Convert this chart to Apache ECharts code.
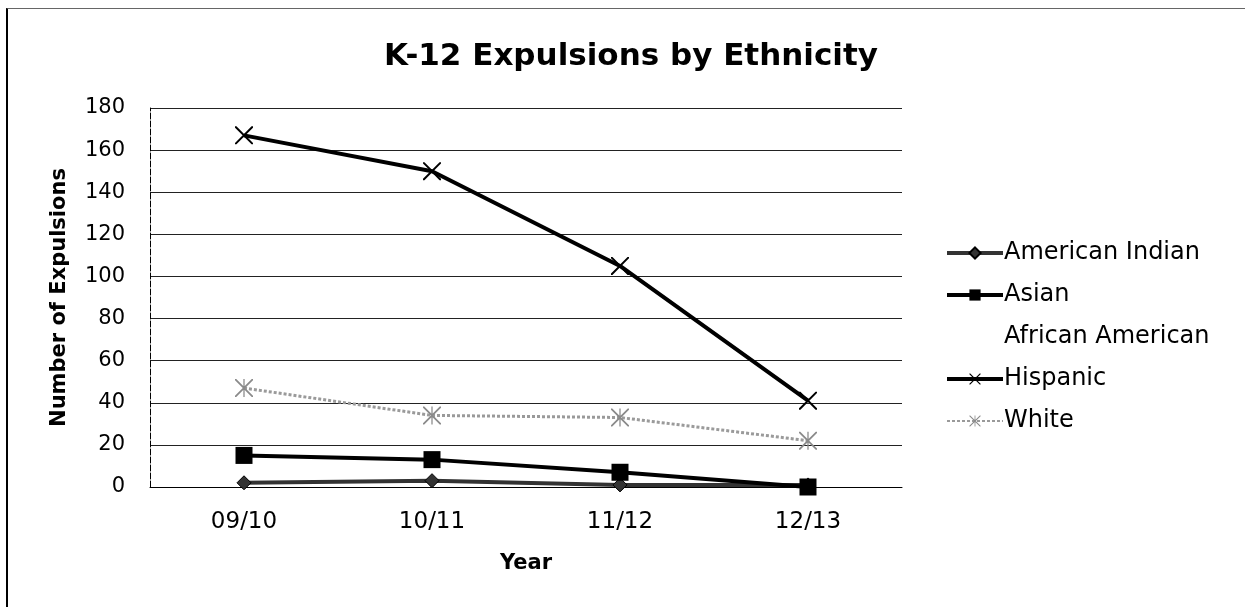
<!DOCTYPE html>
<html>
<head>
<meta charset="utf-8">
<script src="https://cdn.jsdelivr.net/npm/echarts@6/dist/echarts.min.js"></script>
<style>
  html, body { margin: 0; padding: 0; background: #fff; }
  #frame { position: absolute; left: 6px; top: 8px; width: 1239px; height: 599px;
           border-left: 2px solid #000; border-top: 1px solid #666; box-sizing: border-box; }
  #chart { position: absolute; left: 0; top: 0; width: 1245px; height: 607px; }
</style>
</head>
<body>
<div id="frame"></div>
<div id="chart"></div>
<script>
// School years on the category axis
const years = ['09/10', '10/11', '11/12', '12/13'];
const yTicks = [0, 20, 40, 60, 80, 100, 120, 140, 160, 180];

// Expulsions per ethnic group
const americanIndian = [2, 3, 1, 1];
const asian = [15, 13, 7, 0];
const africanAmerican = [null, null, null, null];
const hispanic = [167, 150, 105, 41];
const white = [47, 34, 33, 22];

// Cross and asterisk markers built as thin filled strokes
const crossPath = 'path://M0,0 L1.6,0 L20,18.4 L20,20 L18.4,20 L0,1.6 Z M18.4,0 L20,0 L20,1.6 L1.6,20 L0,20 L0,18.4 Z';
const starPath = 'path://M0,0 L1.4,0 L20,18.6 L20,20 L18.6,20 L0,1.4 Z M18.6,0 L20,0 L20,1.4 L1.4,20 L0,20 L0,18.6 Z M9.3,0 L10.7,0 L10.7,20 L9.3,20 Z';

const font = 'DejaVu Sans';

const chart = echarts.init(document.getElementById('chart'), null, { renderer: 'canvas' });
chart.setOption({
  backgroundColor: 'transparent',
  animation: false,
  title: {
    text: 'K-12 Expulsions by Ethnicity',
    left: 626, top: 36, textAlign: 'center',
    textStyle: { fontFamily: font, fontWeight: 'bold', fontSize: 31, color: '#000' }
  },
  legend: {
    orient: 'vertical',
    left: 940, top: 236,
    itemWidth: 56, itemHeight: 14, itemGap: 18,
    textStyle: { fontFamily: font, fontSize: 24, color: '#000', padding: [0, 0, 0, -4] },
    data: [
      { name: 'American Indian', lineStyle: { width: 4 } },
      { name: 'Asian', lineStyle: { width: 4 } },
      { name: 'African American' },
      { name: 'Hispanic', lineStyle: { width: 4 } },
      { name: 'White', lineStyle: { width: 2 } }
    ]
  },
  grid: { left: 150, right: 343, top: 108, bottom: 120, containLabel: false },
  xAxis: {
    type: 'category',
    data: years,
    boundaryGap: true,
    name: 'Year', nameLocation: 'middle', nameGap: 66,
    nameTextStyle: { fontFamily: font, fontWeight: 'bold', fontSize: 21, color: '#000' },
    axisLine: { lineStyle: { color: '#000', width: 1 } },
    axisTick: { show: false },
    axisLabel: { fontFamily: font, fontSize: 23, color: '#000', margin: 24 }
  },
  yAxis: {
    type: 'value',
    min: yTicks[0], max: yTicks[yTicks.length - 1], interval: 20,
    name: 'Number of Expulsions', nameLocation: 'middle', nameGap: 80,
    nameTextStyle: { fontFamily: font, fontWeight: 'bold', fontSize: 21, color: '#000' },
    axisLine: { show: true, lineStyle: { color: '#000', width: 1, type: [6, 2] } },
    axisTick: { show: false },
    axisLabel: { fontFamily: font, fontSize: 21, color: '#000', margin: 25 },
    splitLine: { lineStyle: { color: '#222', width: 1 } }
  },
  series: [
    {
      name: 'American Indian', type: 'line', data: americanIndian,
      symbol: 'diamond', symbolSize: 14,
      lineStyle: { color: '#333', width: 4 },
      itemStyle: { color: '#333', borderColor: '#000', borderWidth: 1 }
    },
    {
      name: 'Asian', type: 'line', data: asian,
      symbol: 'rect', symbolSize: 17,
      lineStyle: { color: '#000', width: 4 },
      itemStyle: { color: '#000' }
    },
    {
      name: 'African American', type: 'line', data: africanAmerican,
      symbol: 'none',
      lineStyle: { color: 'rgba(0,0,0,0)', width: 0 },
      itemStyle: { color: 'rgba(0,0,0,0)' }
    },
    {
      name: 'Hispanic', type: 'line', data: hispanic,
      symbol: crossPath, symbolSize: 18,
      lineStyle: { color: '#000', width: 4 },
      itemStyle: { color: '#000' }
    },
    {
      name: 'White', type: 'line', data: white,
      symbol: starPath, symbolSize: 18,
      lineStyle: { color: '#9a9a9a', width: 3, type: [3, 2] },
      itemStyle: { color: '#8a8a8a' }
    }
  ]
});
</script>
</body>
</html>
